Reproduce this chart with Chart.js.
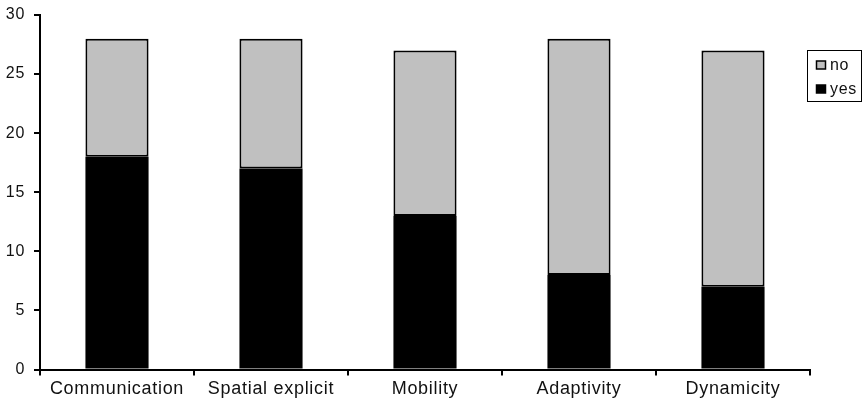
<!DOCTYPE html>
<html>
<head>
<meta charset="utf-8">
<script src="https://cdn.jsdelivr.net/npm/chart.js@4.4.0/dist/chart.umd.min.js"></script>
<style>
  html, body { margin: 0; padding: 0; background: #fff; }
  #wrap { width: 863px; height: 405px; position: relative; }
</style>
</head>
<body>
<div id="wrap"><canvas id="chart"></canvas></div>
<script>
  const categories = ["Communication", "Spatial explicit", "Mobility", "Adaptivity", "Dynamicity"];
  const yesValues = [18, 17, 13, 8, 7];
  const noValues  = [10, 11, 14, 20, 20];
  const yTicks = [0, 5, 10, 15, 20, 25, 30];

  const FONT = "'Liberation Sans', Arial, sans-serif";

  // boxed legend on the right, "no" above "yes"
  const boxLegend = {
    id: "boxLegend",
    beforeDraw(chart) {
      chart.ctx.letterSpacing = "0.7px";
    },
    afterDraw(chart) {
      const ctx = chart.ctx;
      const x = 807, y = 50, w = 54, h = 51;
      ctx.save();
      ctx.strokeStyle = "#000";
      ctx.lineWidth = 1;
      ctx.strokeRect(x + 0.5, y + 0.5, w, h);
      const items = chart.data.datasets.slice().reverse();
      ctx.font = "16px " + FONT;
      ctx.textBaseline = "middle";
      items.forEach((ds, i) => {
        const cy = y + 15 + i * 24;
        ctx.fillStyle = ds.backgroundColor;
        ctx.fillRect(x + 9.5, cy - 4, 9, 8);
        ctx.lineWidth = 1.5;
        ctx.strokeRect(x + 9.5, cy - 4, 9, 8);
        ctx.fillStyle = "#111";
        ctx.fillText(ds.label, x + 23, cy + 1);
      });
      ctx.restore();
    }
  };

  new Chart(document.getElementById("chart"), {
    type: "bar",
    data: {
      labels: categories,
      datasets: [
        { label: "yes", data: yesValues, backgroundColor: "#000000", borderWidth: 0, inflateAmount: 0 },
        { label: "no",  data: noValues,  backgroundColor: "#C0C0C0", borderColor: "#000", borderWidth: 2, borderSkipped: false }
      ]
    },
    options: {
      responsive: true,
      maintainAspectRatio: false,
      animation: false,
      layout: { padding: { top: 15, right: 53, left: 0, bottom: 0 } },
      datasets: { bar: { barPercentage: 0.41, categoryPercentage: 1 } },
      plugins: { legend: { display: false }, tooltip: { enabled: false } },
      scales: {
        x: {
          stacked: true,
          afterFit: (s) => { s.height = 35.5; s.paddingLeft = 0; s.paddingRight = 0; },
          border: { color: "#000", width: 2 },
          grid: { offset: true, drawOnChartArea: false, drawTicks: true, tickLength: 6, color: "#000", lineWidth: 2 },
          ticks: { color: "#111", font: { family: FONT, size: 18 }, padding: 3, maxRotation: 0 }
        },
        y: {
          stacked: true,
          min: 0,
          max: 30,
          afterFit: (s) => { s.width = 40; s.paddingTop = 0; s.paddingBottom = 0; },
          afterBuildTicks: (s) => { s.ticks = yTicks.map(v => ({ value: v })); },
          border: { color: "#000", width: 2 },
          grid: { drawOnChartArea: false, drawTicks: true, tickLength: 6, color: "#000", lineWidth: 2 },
          ticks: { color: "#111", font: { family: FONT, size: 16 }, padding: 9 }
        }
      }
    },
    plugins: [boxLegend]
  });
</script>
</body>
</html>
